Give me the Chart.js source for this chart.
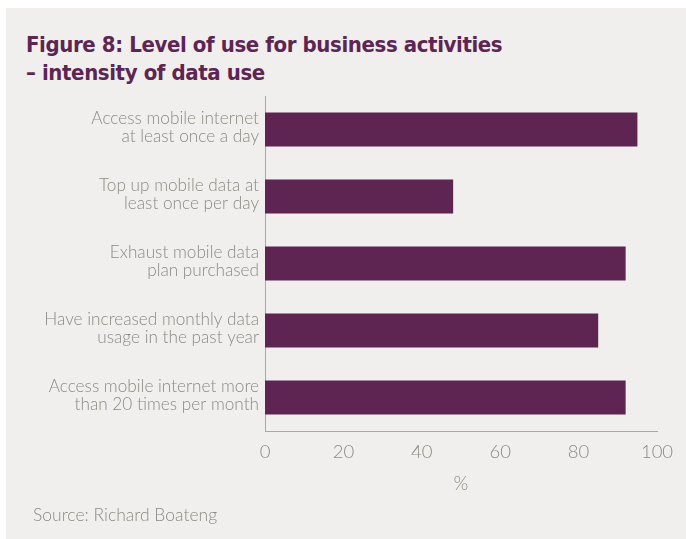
<!DOCTYPE html>
<html>
<head>
<meta charset="utf-8">
<title>Level of use for business activities</title>
<script src="https://cdn.jsdelivr.net/npm/chart.js@4.4.0/dist/chart.umd.min.js"></script>
<style>
  body { margin: 0; background: #ffffff; }
  #panel {
    position: absolute; left: 6px; top: 8px;
    width: 680px; height: 531px;
    background: #f0efed;
  }
  #heading {
    position: absolute; left: 26px; top: 31px; margin: 0;
    font-family: "DejaVu Sans Condensed", "DejaVu Sans", sans-serif;
    font-stretch: condensed;
    font-weight: bold; font-size: 22px; line-height: 28px;
    letter-spacing: -0.4px;
    color: #5e2553;
  }
  #source {
    position: absolute; left: 33px; top: 504px;
    font-family: Lato, "Open Sans", sans-serif; font-weight: 300;
    font-size: 17.5px; color: #8c8b82;
  }
  #wrap { position: absolute; left: 0; top: 0; width: 686px; height: 539px; }
</style>
</head>
<body>
<div id="panel"></div>
<h1 id="heading">Figure 8: Level of use for business activities<br>– intensity of data use</h1>
<div id="wrap"><canvas id="usageChart"></canvas></div>
<div id="source">Source: Richard Boateng</div>

<script>
// activities, top to bottom
var activities = [
  ['Access mobile internet', 'at least once a day'],
  ['Top up mobile data at', 'least once per day'],
  ['Exhaust mobile data', 'plan purchased'],
  ['Have increased monthly data', 'usage in the past year'],
  ['Access mobile internet more', 'than 20 times per month']
];
// share of respondents, %
var percentUsing = [95, 48, 92, 85, 92];
var xTicks = [0, 20, 40, 60, 80, 100];

var purple = '#5e2553';
var grey = '#8c8b82';
var axisGrey = '#a9a8a2';

var ctx = document.getElementById('usageChart').getContext('2d');
var usageChart = new Chart(ctx, {
  type: 'bar',
  data: {
    labels: activities,
    datasets: [{
      label: '%',
      data: percentUsing,
      backgroundColor: purple,
      borderWidth: 0,
      barPercentage: 0.51,
      categoryPercentage: 1
    }]
  },
  options: {
    indexAxis: 'y',
    responsive: true,
    maintainAspectRatio: false,
    animation: false,
    layout: { padding: { left: 0, top: 96, right: 29, bottom: 0 } },
    plugins: {
      legend: { display: false },
      tooltip: { enabled: false }
    },
    scales: {
      x: {
        min: 0,
        max: 100,
        afterBuildTicks: function(scale) {
          scale.ticks = xTicks.map(function(v) { return { value: v }; });
        },
        afterFit: function(scale) { scale.height = 108; },
        grid: { display: false, drawTicks: false },
        border: { display: true, color: axisGrey, width: 1 },
        ticks: {
          padding: 10,
          color: grey,
          font: { family: 'Lato', size: 18.5, weight: '300' }
        },
        title: {
          display: true,
          text: '%',
          color: grey,
          padding: { top: 0, bottom: 44 },
          font: { family: 'Lato', size: 19, weight: '300' }
        }
      },
      y: {
        afterFit: function(scale) { scale.width = 265; },
        grid: { display: false, drawTicks: false },
        border: { display: true, color: axisGrey, width: 1 },
        ticks: {
          padding: 6,
          labelOffset: -2,
          color: grey,
          font: { family: 'Lato', size: 17.2, weight: '300', lineHeight: 1 }
        }
      }
    }
  }
});
</script>
</body>
</html>
